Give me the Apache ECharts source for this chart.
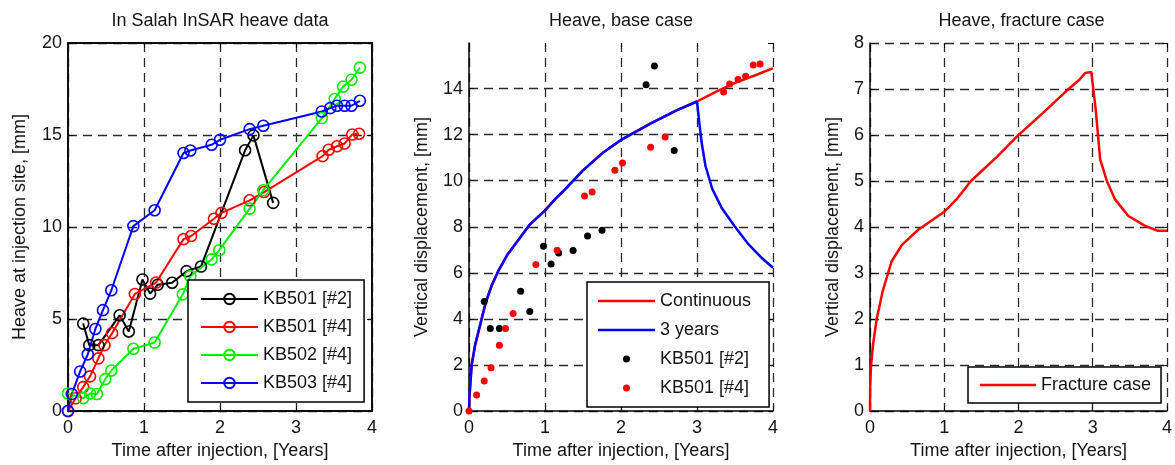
<!DOCTYPE html>
<html>
<head>
<meta charset="utf-8">
<script src="https://cdn.jsdelivr.net/npm/echarts@6/dist/echarts.min.js"></script>
<style>html,body{margin:0;padding:0;background:#fff}#c{width:1175px;height:465px}</style>
</head>
<body>
<div id="c"></div>
<script>
// ---- Panel 1: In Salah InSAR heave data ----
const kb501_2_t = [0.20,0.28,0.40,0.68,0.80,0.98,1.08,1.18,1.37,1.56,1.75,2.33,2.44,2.70];
const kb501_2_v = [4.75,3.58,3.58,5.20,4.32,7.15,6.38,6.86,6.97,7.60,7.85,14.17,14.98,11.31];
const kb501_4_t = [0,0.10,0.20,0.29,0.40,0.48,0.58,0.88,1.16,1.52,1.62,1.92,2.02,2.39,2.58,3.35,3.43,3.54,3.64,3.74,3.83];
const kb501_4_v = [0,0.69,1.30,1.88,2.86,3.58,4.23,6.36,6.98,9.34,9.51,10.45,10.77,11.45,11.90,13.85,14.20,14.39,14.54,15.03,15.07];
const kb502_4_t = [0,0.20,0.29,0.38,0.49,0.57,0.86,1.14,1.51,1.61,1.89,1.99,2.39,2.57,3.34,3.51,3.62,3.73,3.84];
const kb502_4_v = [0.95,0.70,0.95,0.92,1.73,2.20,3.38,3.72,6.34,7.33,8.24,8.74,11.00,12.00,15.92,16.96,17.63,18.00,18.66];
const kb503_4_t = [0,0.05,0.16,0.26,0.36,0.46,0.57,0.86,1.14,1.52,1.61,1.89,2.00,2.39,2.57,3.34,3.45,3.54,3.64,3.73,3.84];
const kb503_4_v = [0,0.92,2.15,3.08,4.46,5.48,6.56,10.05,10.91,14.02,14.16,14.47,14.74,15.32,15.50,16.28,16.46,16.59,16.59,16.59,16.86];

// ---- Panel 2: Heave, base case ----
const base_t = [0,0.005,0.013,0.035,0.08,0.146,0.22,0.30,0.39,0.50,0.63,0.79,1.00,1.14,1.27,1.50,1.77,1.99,2.38,2.73,3.00];
const base_v = [0,0.50,0.98,2.00,2.86,3.73,4.71,5.46,6.11,6.76,7.34,8.06,8.71,9.22,9.65,10.45,11.24,11.75,12.47,13.05,13.44];
const cont_t = [3.24,3.50,3.76,4.00];
const cont_v = [13.85,14.25,14.57,14.89];
const yr3_t = [3.02,3.06,3.11,3.20,3.33,3.50,3.67,3.86,4.00];
const yr3_v = [12.83,11.68,10.67,9.65,8.79,8.00,7.27,6.62,6.22];

// ---- Panel 3: Heave, fracture case ----
const frac_t = [0,0.002,0.013,0.045,0.09,0.17,0.29,0.43,0.65,0.83,1.00,1.18,1.36,1.72,1.98,2.33,2.64,2.82,2.90,2.98,3.04,3.10,3.19,3.30,3.48,3.70,3.87,4.00];
const frac_v = [0,0.50,0.98,1.49,2.00,2.60,3.25,3.61,3.94,4.14,4.33,4.63,5.00,5.54,5.97,6.48,6.95,7.20,7.35,7.37,6.55,5.47,5.00,4.60,4.24,4.03,3.92,3.92];

const titles = ['In Salah InSAR heave data','Heave, base case','Heave, fracture case'];
const xName = 'Time after injection, [Years]';
const yNames = ['Heave at injection site, [mm]','Vertical displacement, [mm]','Vertical displacement, [mm]'];

const zip = (a,b) => a.map((x,i) => [x,b[i]]);
const FONT = 'Liberation Sans, Arial, sans-serif';
const TXT = '#141414';
const LINE_ICON = 'path://M0,0H57V2.4H0Z';

const grids = [
  {left:68, top:43, width:304, height:369, show:true, borderColor:'#000', borderWidth:1.5, backgroundColor:'transparent'},
  {left:469, top:43, width:304, height:370},
  {left:870, top:43, width:303, height:370}
];
const yRanges = [{min:0,max:20,interval:5},{min:0,max:15.98,interval:2},{min:0,max:8,interval:1}];
const yGaps = [39,38,28];

const mkSplit = (showMax) => ({show:true, showMaxLine:showMax, lineStyle:{color:'#2a2a2a', width:1.3, type:[9,6]}});
const xAxes = [], yAxes = [];
for (let i=0;i<3;i++){
  xAxes.push({gridIndex:i, type:'value', min:0, max:4, interval:1, position:'bottom',
    name:xName, nameLocation:'middle', nameGap:31,
    nameTextStyle:{fontSize:18, color:TXT, fontFamily:FONT},
    axisLine:{show:true, onZero:false, lineStyle:{color:'#000', width:1.5}},
    axisTick:{show:true, inside:true, length:5, lineStyle:{color:'#000'}},
    axisLabel:{fontSize:18, color:TXT, margin:8, fontFamily:FONT},
    splitLine:mkSplit(true)});
  yAxes.push(Object.assign({gridIndex:i, type:'value', position:'left',
    name:yNames[i], nameLocation:'middle', nameGap:yGaps[i], nameRotate:90,
    nameTextStyle:{fontSize:18, color:TXT, fontFamily:FONT},
    axisLine:{show:true, onZero:false, lineStyle:{color:'#000', width:1.5}},
    axisTick:{show:true, inside:true, length:5, lineStyle:{color:'#000'}},
    axisLabel:{fontSize:18, color:TXT, margin:6, fontFamily:FONT, showMaxLabel: i!==1},
    splitLine:mkSplit(i!==1)}, yRanges[i]));
}
for (let i=0;i<3;i++){
  xAxes.push({gridIndex:i, type:'value', min:0, max:4, interval:1, position:'top',
    axisLine:{show:i===0, onZero:false, lineStyle:{color:'#000', width:1.5}},
    axisTick:{show:true, inside:true, length:5, lineStyle:{color:'#000'}},
    axisLabel:{show:false}, splitLine:{show:false}});
  yAxes.push(Object.assign({gridIndex:i, type:'value', position:'right',
    axisLine:{show:i===0, onZero:false, lineStyle:{color:'#000', width:1.5}},
    axisTick:{show:true, inside:true, length:5, lineStyle:{color:'#000'}},
    axisLabel:{show:false}, splitLine:{show:false}}, yRanges[i]));
}

function circLine(name, t, v, color){
  return {name, type:'line', xAxisIndex:0, yAxisIndex:0, data:zip(t,v),
    symbol:'circle', symbolSize:11, showSymbol:true,
    lineStyle:{color, width:2},
    itemStyle:{color:'rgba(255,255,255,0)', borderColor:color, borderWidth:1.6},
    animation:false};
}
const series = [
  circLine('KB501 [#2]', kb501_2_t, kb501_2_v, '#000000'),
  circLine('KB501 [#4]', kb501_4_t, kb501_4_v, '#ff0000'),
  circLine('KB502 [#4]', kb502_4_t, kb502_4_v, '#00ee00'),
  circLine('KB503 [#4]', kb503_4_t, kb503_4_v, '#0000ff'),
  {name:'Continuous', type:'line', xAxisIndex:1, yAxisIndex:1, symbol:'none',
    data:zip(base_t.concat(cont_t), base_v.concat(cont_v)),
    lineStyle:{color:'#ff0000', width:2.5}, itemStyle:{color:'#ff0000'}, z:2},
  {name:'3 years', type:'line', xAxisIndex:1, yAxisIndex:1, symbol:'none',
    data:zip(base_t.concat(yr3_t), base_v.concat(yr3_v)),
    lineStyle:{color:'#0000ff', width:2.5}, itemStyle:{color:'#0000ff'}, z:3},
  {name:'KB501 [#2] ', type:'scatter', xAxisIndex:1, yAxisIndex:1, symbol:'circle', symbolSize:7,
    data:zip(kb501_2_t, kb501_2_v), itemStyle:{color:'#000000', opacity:1}, z:4},
  {name:'KB501 [#4] ', type:'scatter', xAxisIndex:1, yAxisIndex:1, symbol:'circle', symbolSize:7,
    data:zip(kb501_4_t, kb501_4_v), itemStyle:{color:'#ff0000', opacity:1}, z:4},
  {name:'Fracture case', type:'line', xAxisIndex:2, yAxisIndex:2, symbol:'none',
    data:zip(frac_t, frac_v), lineStyle:{color:'#ff0000', width:2.5}, itemStyle:{color:'#ff0000'}}
];

const legendBase = {orient:'vertical', backgroundColor:'#fff', borderColor:'#000', borderWidth:1.5,
  borderRadius:0, itemWidth:57, textStyle:{fontSize:18, color:TXT, fontFamily:FONT},
  formatter: n => n.trim(), selectedMode:false};
const legends = [
  Object.assign({}, legendBase, {left:188, top:280, padding:[10,12,10,12], itemHeight:13, itemGap:10,
    data:['KB501 [#2]','KB501 [#4]','KB502 [#4]','KB503 [#4]']}),
  Object.assign({}, legendBase, {left:587, top:282, padding:[10,18,10,11], itemHeight:7, itemGap:11,
    data:[{name:'Continuous', icon:LINE_ICON},{name:'3 years', icon:LINE_ICON},
          {name:'KB501 [#2] ', icon:'circle'},{name:'KB501 [#4] ', icon:'circle'}]}),
  Object.assign({}, legendBase, {left:968, top:367, padding:[9,10,9,12], itemWidth:56, itemHeight:7, itemGap:10,
    data:[{name:'Fracture case', icon:LINE_ICON}]})
];

const centers = [220, 621, 1021.5];
const titleArr = titles.map((t,i) => ({text:t, left:centers[i], top:12, textAlign:'center', padding:0,
  textStyle:{fontSize:18, fontWeight:'normal', color:TXT, fontFamily:FONT}}));

const chart = echarts.init(document.getElementById('c'), null, {renderer:'canvas'});
chart.setOption({
  animation:false,
  textStyle:{fontFamily:FONT},
  title:titleArr,
  grid:grids,
  xAxis:xAxes,
  yAxis:yAxes,
  legend:legends,
  series
});
</script>
</body>
</html>
